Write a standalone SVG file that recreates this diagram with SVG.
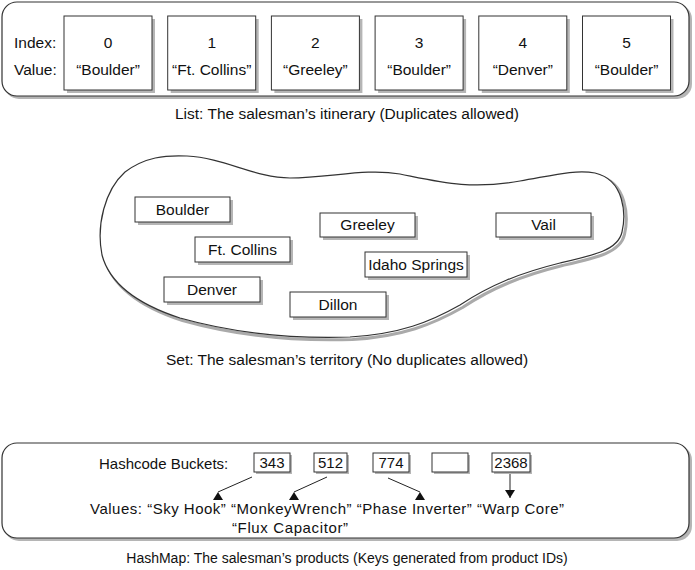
<svg xmlns="http://www.w3.org/2000/svg" width="695" height="570" viewBox="0 0 695 570">
<style>
text{font-family:"Liberation Sans",Arial,sans-serif;font-size:15.5px;fill:#111}
.c{text-anchor:middle}
.box{fill:#fff;stroke:#333;stroke-width:1}
.sh{fill:#b5b5b5;stroke:none}
.frame{fill:#fff;stroke:#333;stroke-width:1.2}
.hm{font-size:15px}
.conn{stroke:#222;stroke-width:1;fill:none}
</style>
<defs>
<marker id="up" markerUnits="userSpaceOnUse" viewBox="-5 0 10 8" refX="0" refY="0" markerWidth="10" markerHeight="8" orient="0"><path d="M0,0 L5,8 L-5,8 Z" fill="#111"/></marker>
<marker id="down" markerUnits="userSpaceOnUse" viewBox="-5 -8 10 8" refX="0" refY="0" markerWidth="10" markerHeight="8" orient="0"><path d="M0,0 L5,-8 L-5,-8 Z" fill="#111"/></marker>
</defs>

<!-- List section -->
<g id="list">
<rect x="4" y="4" width="688" height="95" rx="15" class="sh"/>
<rect x="2" y="2" width="687" height="94" rx="15" class="frame"/>
<text x="14" y="48">Index:</text>
<text x="14" y="75">Value:</text>
</g>
<g id="item0"><rect x="67" y="19" width="88" height="74" class="sh"/><rect x="64" y="16" width="88" height="74" class="box"/><text x="108" y="48" class="c">0</text><text x="108" y="75" class="c">“Boulder”</text></g>
<g id="item1"><rect x="170.7" y="19" width="88" height="74" class="sh"/><rect x="167.7" y="16" width="88" height="74" class="box"/><text x="211.7" y="48" class="c">1</text><text x="211.7" y="75" class="c">“Ft. Collins”</text></g>
<g id="item2"><rect x="274.4" y="19" width="88" height="74" class="sh"/><rect x="271.4" y="16" width="88" height="74" class="box"/><text x="315.4" y="48" class="c">2</text><text x="315.4" y="75" class="c">“Greeley”</text></g>
<g id="item3"><rect x="378.1" y="19" width="88" height="74" class="sh"/><rect x="375.1" y="16" width="88" height="74" class="box"/><text x="419.1" y="48" class="c">3</text><text x="419.1" y="75" class="c">“Boulder”</text></g>
<g id="item4"><rect x="481.8" y="19" width="88" height="74" class="sh"/><rect x="478.8" y="16" width="88" height="74" class="box"/><text x="522.8" y="48" class="c">4</text><text x="522.8" y="75" class="c">“Denver”</text></g>
<g id="item5"><rect x="585.5" y="19" width="88" height="74" class="sh"/><rect x="582.5" y="16" width="88" height="74" class="box"/><text x="626.5" y="48" class="c">5</text><text x="626.5" y="75" class="c">“Boulder”</text></g>
<text x="347" y="119" class="c">List: The salesman’s itinerary (Duplicates allowed)</text>

<!-- Set section -->
<g id="set">
<path transform="translate(2.5,2.5)" fill="none" stroke="#aaa" stroke-width="3" d="M187,156 C225,158 255,178 290,178 C330,178 365,168 400,174 C440,182 470,190 520,181 C550,176 575,169 595,173 C625,180 626,215 622,232 C618,250 595,255 560,263 C520,273 490,285 460,305 C430,322 400,334 350,337 C290,339 230,332 180,318 C140,305 110,285 102,255 C96,225 105,190 125,172 C145,157 165,155 187,156 Z"/>
<path fill="#fff" stroke="#333" stroke-width="1.2" d="M187,156 C225,158 255,178 290,178 C330,178 365,168 400,174 C440,182 470,190 520,181 C550,176 575,169 595,173 C625,180 626,215 622,232 C618,250 595,255 560,263 C520,273 490,285 460,305 C430,322 400,334 350,337 C290,339 230,332 180,318 C140,305 110,285 102,255 C96,225 105,190 125,172 C145,157 165,155 187,156 Z"/>
</g>
<g id="s-boulder"><rect x="138" y="200" width="95" height="25" class="sh"/><rect x="135" y="197" width="95" height="25" class="box"/><text x="182.5" y="215" class="c">Boulder</text></g>
<g id="s-ftcollins"><rect x="198" y="240" width="95" height="25" class="sh"/><rect x="195" y="237" width="95" height="25" class="box"/><text x="242.5" y="255" class="c">Ft. Collins</text></g>
<g id="s-denver"><rect x="167" y="280" width="96" height="25" class="sh"/><rect x="164" y="277" width="96" height="25" class="box"/><text x="212" y="295" class="c">Denver</text></g>
<g id="s-greeley"><rect x="323" y="216" width="95" height="24" class="sh"/><rect x="320" y="213" width="95" height="24" class="box"/><text x="367.5" y="230" class="c">Greeley</text></g>
<g id="s-idaho"><rect x="368" y="255" width="102" height="25" class="sh"/><rect x="365" y="252" width="102" height="25" class="box"/><text x="416" y="270" class="c">Idaho Springs</text></g>
<g id="s-dillon"><rect x="293" y="295" width="96" height="25" class="sh"/><rect x="290" y="292" width="96" height="25" class="box"/><text x="338" y="310" class="c">Dillon</text></g>
<g id="s-vail"><rect x="499" y="216" width="95" height="24" class="sh"/><rect x="496" y="213" width="95" height="24" class="box"/><text x="543.5" y="230" class="c">Vail</text></g>
<text x="347" y="365" class="c">Set: The salesman’s territory (No duplicates allowed)</text>

<!-- HashMap section -->
<g id="hashmap">
<rect x="4" y="445" width="688" height="96" rx="15" class="sh"/>
<rect x="2" y="443" width="687" height="95" rx="15" class="frame"/>
<text x="99" y="469" class="hm">Hashcode Buckets:</text>
<text x="90" y="514" class="hm" textLength="474" lengthAdjust="spacing">Values: “Sky Hook” “MonkeyWrench” “Phase Inverter” “Warp Core”</text>
<text x="232" y="533" class="hm" textLength="116" lengthAdjust="spacing">“Flux Capacitor”</text>
</g>
<g id="b343"><rect x="256" y="455" width="36" height="19" class="sh"/><rect x="254" y="453" width="36" height="19" class="box"/><text x="272" y="468" class="c hm">343</text></g>
<g id="b512"><rect x="316" y="455" width="33" height="19" class="sh"/><rect x="314" y="453" width="33" height="19" class="box"/><text x="330.5" y="468" class="c hm">512</text></g>
<g id="b774"><rect x="375" y="455" width="36" height="19" class="sh"/><rect x="373" y="453" width="36" height="19" class="box"/><text x="391" y="468" class="c hm">774</text></g>
<g id="bempty"><rect x="434" y="455" width="36" height="19" class="sh"/><rect x="432" y="453" width="36" height="19" class="box"/></g>
<g id="b2368"><rect x="494" y="455" width="38" height="19" class="sh"/><rect x="492" y="453" width="38" height="19" class="box"/><text x="511" y="468" class="c hm">2368</text></g>
<g id="connectors">
<line x1="252" y1="477" x2="218" y2="492" class="conn" marker-end="url(#up)"/>
<line x1="327" y1="477" x2="294" y2="492" class="conn" marker-end="url(#up)"/>
<line x1="388" y1="478" x2="420" y2="492" class="conn" marker-end="url(#up)"/>
<line x1="510" y1="474" x2="510" y2="498" class="conn" marker-end="url(#down)"/>
</g>
<text x="347" y="563" class="c" style="font-size:14px">HashMap: The salesman’s products (Keys generated from product IDs)</text>
</svg>
